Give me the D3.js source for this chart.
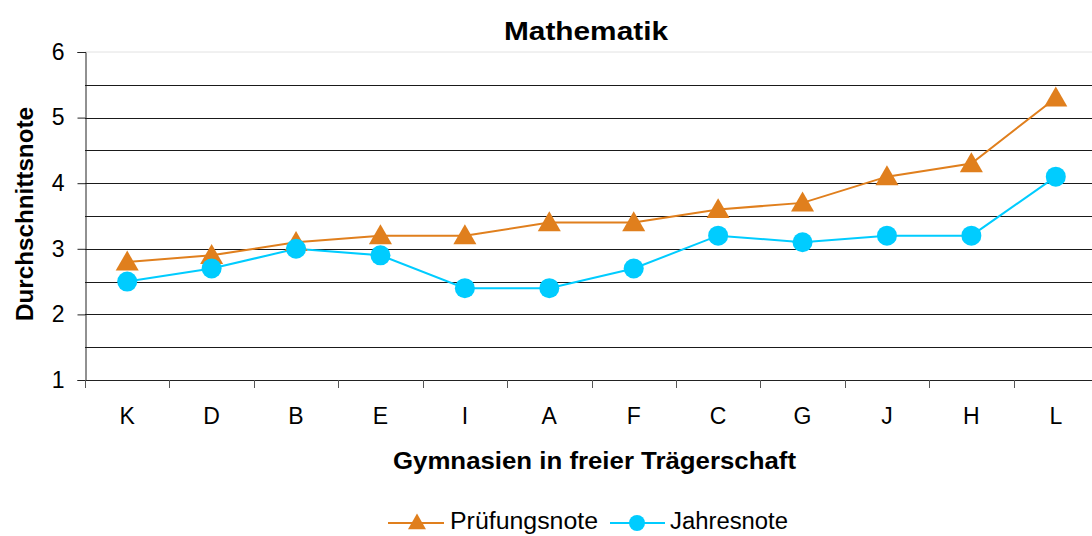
<!DOCTYPE html>
<html>
<head>
<meta charset="utf-8">
<script src="https://cdn.jsdelivr.net/npm/d3@7"></script>
<style>
  body { margin: 0; background: #fff; }
  text { font-family: "Liberation Sans", Arial, sans-serif; }
</style>
</head>
<body>
<svg id="chart" width="1092" height="536"></svg>
<script>
var schools = ["K", "D", "B", "E", "I", "A", "F", "C", "G", "J", "H", "L"];
var pruefung = [2.8, 2.9, 3.1, 3.2, 3.2, 3.4, 3.4, 3.6, 3.7, 4.1, 4.3, 5.3];
var jahres = [2.5, 2.7, 3.0, 2.9, 2.4, 2.4, 2.7, 3.2, 3.1, 3.2, 3.2, 4.1];
var yTicks = [1, 2, 3, 4, 5, 6];
var gridVals = [1.5, 2, 2.5, 3, 3.5, 4, 4.5, 5, 5.5];

var orange = "#e07f1d", cyan = "#00ccff";

var svg = d3.select("#chart");

// plot area runs a little past the right edge, like the original
var x = d3.scaleBand().domain(schools).range([85, 1098]);
var y = d3.scaleLinear().domain([1, 6]).range([380, 52]);

// grid
svg.append("line")
    .attr("x1", 85).attr("x2", 1092)
    .attr("y1", y(6)).attr("y2", y(6))
    .attr("stroke", "#e2e2e2").attr("stroke-width", 1);
svg.append("g").selectAll("line")
    .data(gridVals)
    .enter().append("line")
    .attr("x1", 85).attr("x2", 1092)
    .attr("y1", function(d) { return Math.round(y(d)) + 0.5; })
    .attr("y2", function(d) { return Math.round(y(d)) + 0.5; })
    .attr("stroke", "#1a1a1a").attr("stroke-width", 1);

// y axis
var yAxis = svg.append("g")
    .attr("transform", "translate(85.5,0)")
    .call(d3.axisLeft(y).tickValues(yTicks).tickSize(8).tickPadding(13).tickFormat(d3.format("d")));
yAxis.select(".domain").attr("stroke", "#222");
yAxis.selectAll(".tick line").attr("stroke", "#222");
yAxis.selectAll("text").style("font-size", "23px").attr("fill", "#000");

// x axis with ticks on category boundaries
svg.append("line")
    .attr("x1", 85).attr("x2", 1092)
    .attr("y1", 380.5).attr("y2", 380.5)
    .attr("stroke", "#222");
svg.append("g").selectAll("line")
    .data(schools)
    .enter().append("line")
    .attr("x1", function(d) { return Math.round(x(d)) + 0.5; })
    .attr("x2", function(d) { return Math.round(x(d)) + 0.5; })
    .attr("y1", 380).attr("y2", 388)
    .attr("stroke", "#555");
svg.append("g").selectAll("text")
    .data(schools)
    .enter().append("text")
    .attr("x", function(d) { return x(d) + x.bandwidth() / 2; })
    .attr("y", 424)
    .attr("text-anchor", "middle")
    .style("font-size", "23px")
    .text(function(d) { return d; });

// lines
var line = d3.line()
    .x(function(d, i) { return x(schools[i]) + x.bandwidth() / 2; })
    .y(function(d) { return y(d); });

svg.append("path").datum(pruefung)
    .attr("d", line).attr("fill", "none")
    .attr("stroke", orange).attr("stroke-width", 2);
svg.append("path").datum(jahres)
    .attr("d", line).attr("fill", "none")
    .attr("stroke", cyan).attr("stroke-width", 2);

var tri = d3.symbol().type(d3.symbolTriangle).size(230);

svg.append("g").selectAll("path")
    .data(pruefung)
    .enter().append("path")
    .attr("d", tri)
    .attr("transform", function(d, i) {
      return "translate(" + (x(schools[i]) + x.bandwidth() / 2) + "," + (y(d) + 2) + ")";
    })
    .attr("fill", orange);

svg.append("g").selectAll("circle")
    .data(jahres)
    .enter().append("circle")
    .attr("cx", function(d, i) { return x(schools[i]) + x.bandwidth() / 2; })
    .attr("cy", function(d) { return y(d); })
    .attr("r", 10)
    .attr("fill", cyan);

// titles (stretched to the widths in the original)
svg.append("text")
    .attr("x", 504).attr("y", 40)
    .attr("textLength", 164).attr("lengthAdjust", "spacingAndGlyphs")
    .style("font-size", "26px").style("font-weight", "bold")
    .text("Mathematik");

svg.append("text")
    .attr("x", 393).attr("y", 469)
    .attr("textLength", 403).attr("lengthAdjust", "spacingAndGlyphs")
    .style("font-size", "23px").style("font-weight", "bold")
    .text("Gymnasien in freier Trägerschaft");

svg.append("text")
    .attr("transform", "translate(33,321) rotate(-90)")
    .attr("textLength", 214).attr("lengthAdjust", "spacingAndGlyphs")
    .style("font-size", "23px").style("font-weight", "bold")
    .text("Durchschnittsnote");

// legend
var lg = svg.append("g");
lg.append("line").attr("x1", 388).attr("x2", 444).attr("y1", 523).attr("y2", 523)
    .attr("stroke", orange).attr("stroke-width", 2);
lg.append("path").attr("d", d3.symbol().type(d3.symbolTriangle).size(140))
    .attr("transform", "translate(417,524)").attr("fill", orange);
lg.append("text").attr("x", 450).attr("y", 529)
    .attr("textLength", 148).attr("lengthAdjust", "spacingAndGlyphs")
    .style("font-size", "23px").text("Prüfungsnote");

lg.append("line").attr("x1", 610).attr("x2", 665).attr("y1", 523).attr("y2", 523)
    .attr("stroke", cyan).attr("stroke-width", 2);
lg.append("circle").attr("cx", 637).attr("cy", 523).attr("r", 8).attr("fill", cyan);
lg.append("text").attr("x", 670).attr("y", 529)
    .attr("textLength", 118).attr("lengthAdjust", "spacingAndGlyphs")
    .style("font-size", "23px").text("Jahresnote");
</script>
</body>
</html>
